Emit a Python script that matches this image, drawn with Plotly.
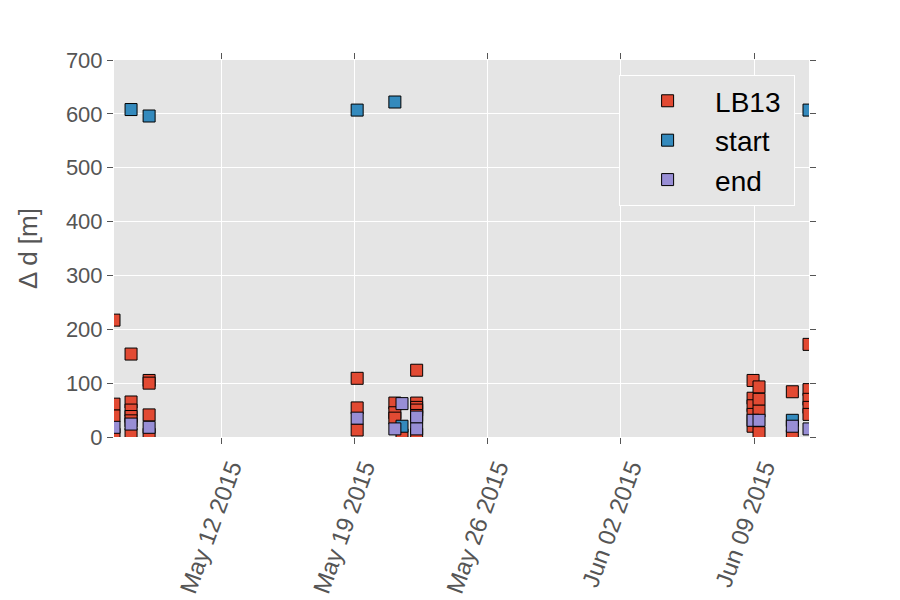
import plotly.graph_objects as go

# ---- data ----
lb13_dates = [
    "2015-05-06 09:00", "2015-05-06 09:00", "2015-05-06 09:00", "2015-05-06 09:00",
    "2015-05-07 06:30", "2015-05-07 06:30", "2015-05-07 06:30", "2015-05-07 06:30", "2015-05-07 06:30", "2015-05-07 06:30",
    "2015-05-08 05:15", "2015-05-08 05:15", "2015-05-08 05:15", "2015-05-08 05:15",
    "2015-05-19 03:30", "2015-05-19 03:30", "2015-05-19 03:30",
    "2015-05-21 03:00", "2015-05-21 03:00", "2015-05-21 03:00",
    "2015-05-21 12:00",
    "2015-05-22 06:30", "2015-05-22 06:30", "2015-05-22 06:30", "2015-05-22 06:30", "2015-05-22 06:30", "2015-05-22 06:30",
    "2015-06-08 22:30", "2015-06-08 22:30", "2015-06-08 22:30", "2015-06-08 22:30", "2015-06-08 22:30",
    "2015-06-09 06:00", "2015-06-09 06:00", "2015-06-09 06:00", "2015-06-09 06:00",
    "2015-06-11 00:00", "2015-06-11 00:00",
    "2015-06-11 21:00", "2015-06-11 21:00", "2015-06-11 21:00", "2015-06-11 21:00", "2015-06-11 21:00",
]
lb13_vals = [
    217, 61, 39, 5,
    154, 65, 50, 38, 30, 5,
    105, 100, 41, 5,
    109, 54, 13,
    63, 45, 35,
    4,
    124, 63, 55, 50, 40, 5,
    105, 72, 58, 42, 20,
    93, 70, 48, 8,
    84, 2,
    172, 88, 70, 55, 42,
]

start_dates = [
    "2015-05-07 06:30", "2015-05-08 05:15", "2015-05-19 03:30", "2015-05-21 03:00",
    "2015-05-21 12:00", "2015-06-11 00:00", "2015-06-11 21:00",
]
start_vals = [608, 596, 607, 622, 20, 31, 607]

end_dates = [
    "2015-05-06 09:00", "2015-05-07 06:30", "2015-05-08 05:15", "2015-05-19 03:30",
    "2015-05-21 03:00", "2015-05-21 12:00", "2015-05-22 06:30", "2015-05-22 06:30",
    "2015-06-08 22:30", "2015-06-09 06:00", "2015-06-11 00:00", "2015-06-11 21:00",
]
end_vals = [18, 24, 18, 35, 15, 62, 37, 15, 31, 31, 20, 15]

x_range = ["2015-05-06 09:00", "2015-06-11 21:00"]
x_ticks = ["2015-05-12", "2015-05-19", "2015-05-26", "2015-06-02", "2015-06-09"]
y_ticks = [0, 100, 200, 300, 400, 500, 600, 700]

series = [
    ("LB13\u00a0", lb13_dates, lb13_vals, "#E24A33"),
    ("start", start_dates, start_vals, "#348ABD"),
    ("end", end_dates, end_vals, "#988ED5"),
]

fig = go.Figure()
for name, xs, ys, color in series:
    fig.add_trace(go.Scatter(
        x=xs, y=ys, mode="markers", name=name,
        marker=dict(symbol="square", size=12, color=color,
                    line=dict(color="black", width=1)),
    ))

font_family = "Liberation Sans, Arial, sans-serif"
fig.update_layout(
    width=900, height=600,
    margin=dict(l=106, r=99, t=52, b=171),
    paper_bgcolor="white",
    plot_bgcolor="#E5E5E5",
    font=dict(family=font_family, color="#555555", size=22),
    showlegend=True,
    legend=dict(
        x=0.98, y=0.96, xanchor="right", yanchor="top",
        bgcolor="#E5E5E5", bordercolor="white", borderwidth=1,
        font=dict(size=28, color="black", family=font_family),
        itemwidth=85, tracegroupgap=5,
    ),
)
fig.update_xaxes(
    type="date", range=x_range,
    tickvals=x_ticks, tickformat="%b %d %Y", tickangle=-70,
    showgrid=True, gridcolor="white", gridwidth=1,
    zeroline=False, showline=False,
    ticks="outside", ticklen=6, tickcolor="#555555", mirror="ticks",
    tickfont=dict(size=24, color="#555555"),
    ticklabelshift=10,
)
fig.update_yaxes(
    range=[0, 700], tickvals=y_ticks,
    showgrid=True, gridcolor="white", gridwidth=1,
    zeroline=False, showline=False,
    ticks="outside", ticklen=6, tickcolor="#555555", mirror="ticks",
    tickfont=dict(size=22, color="#555555"),
    title=dict(text="Δ d [m]", font=dict(size=26, color="#555555"), standoff=20),
)

fig.write_html("out.html")
